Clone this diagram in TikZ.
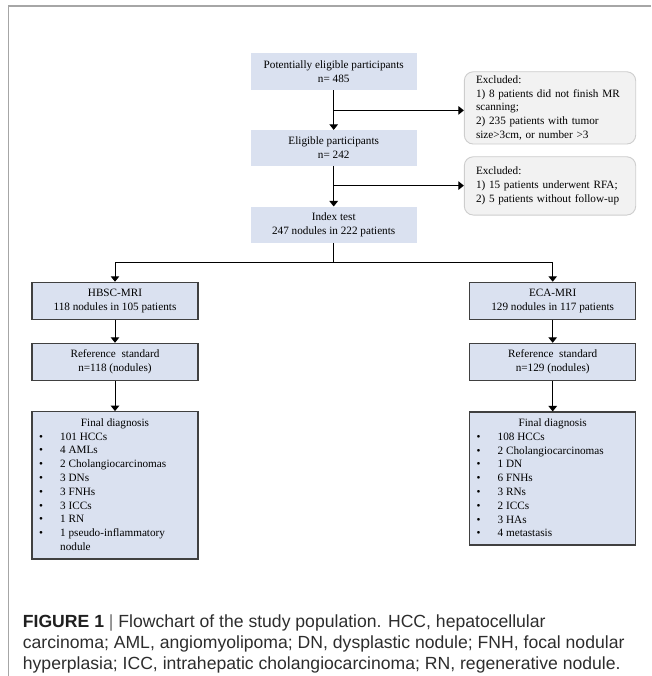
\documentclass[tikz,border=0pt]{standalone}
\usepackage{fontspec}
\setmainfont{Liberation Serif}
\newfontfamily\capfont{Liberation Sans}
\usetikzlibrary{arrows.meta}
\definecolor{boxblue}{RGB}{218,225,240}
\definecolor{exfill}{RGB}{242,242,242}
\definecolor{exdraw}{RGB}{205,205,205}
\definecolor{framegray}{RGB}{166,166,166}
\definecolor{bordergray}{RGB}{64,64,64}
\definecolor{captext}{RGB}{45,45,45}
\definecolor{barcol}{RGB}{110,110,110}
\tikzset{
  plainbox/.style={fill=boxblue, minimum width=166pt, inner sep=0pt, align=center,
    font=\fontsize{11.2}{14}\selectfont},
  framedbox/.style={plainbox, draw=bordergray, line width=1.1pt},
  exbox/.style={fill=exfill, draw=exdraw, rounded corners=9pt, line width=0.9pt,
    text width=148pt, inner xsep=11.7pt, inner ysep=1pt, align=left,
    font=\fontsize{11.2}{13.8}\selectfont},
  listtxt/.style={inner sep=0pt, align=left, font=\fontsize{11.2}{13.8}\selectfont},
  headtxt/.style={inner sep=0pt, font=\fontsize{11.2}{13.8}\selectfont},
  captxt/.style={inner sep=0pt, anchor=base west, text=captext,
    font=\capfont\fontsize{17.6}{21}\selectfont},
  conn/.style={line width=1pt, draw=black},
  arr/.style={conn, -{Triangle[width=8.5pt,length=5.5pt]}},
}
\newcommand{\bul}{\makebox[21pt][l]{\textbullet}}
\begin{document}
\begin{tikzpicture}[x=1pt,y=-1pt]
\useasboundingbox (0,0) rectangle (651,676);
% frame
\draw[framegray, line width=1.3pt] (8.3,676) -- (8.3,6) -- (651,6);

% central column
\node[plainbox, minimum height=36.7pt] (pot) at (333.7,71.7) {Potentially eligible participants\\n= 485};
\node[plainbox, minimum height=35.7pt] (elig) at (333.7,147.9) {Eligible participants\\n= 242};
\node[plainbox, minimum height=36pt] (idx) at (333.7,224.7) {Index test\\247 nodules in 222 patients};

% excluded boxes
\node[exbox, minimum height=72.3pt] (ex1) at (550,107.9) {Excluded:\\1) 8 patients did not finish MR\\scanning;\\2) 235 patients with tumor\\size>3cm, or number >3};
\node[exbox, minimum height=58.3pt] (ex2) at (550,185.9) {Excluded:\\1) 15 patients underwent RFA;\\2) 5 patients without follow-up};

\coordinate (j1) at (333.7,110.4);
\coordinate (j2) at (333.7,185.6);
\coordinate (br) at (333.7,262.3);

\draw[arr] (pot.south) -- (elig.north);
\draw[arr] (j1) -- (j1 -| ex1.west);
\draw[arr] (elig.south) -- (idx.north);
\draw[arr] (j2) -- (j2 -| ex2.west);

% left column
\node[framedbox, minimum height=37pt] (hbsc) at (115,300.8) {HBSC-MRI\\118 nodules in 105 patients};
\node[framedbox, minimum height=36.7pt] (refL) at (115,361.7) {Reference\ \ standard\\n=118 (nodules)};
\node[framedbox, minimum height=147.3pt] (finL) at (115,485.3) {};
\node[headtxt] (finLh) at (115,424.2) {Final diagnosis};
\node[listtxt, anchor=west] (finLi) at (39,491.7) {\bul 101 HCCs\\\bul 4 AMLs\\\bul 2 Cholangiocarcinomas\\\bul 3 DNs\\\bul 3 FNHs\\\bul 3 ICCs\\\bul 1 RN\\\bul 1 pseudo-inflammatory\\\hspace*{21pt}nodule};

% right column
\node[framedbox, minimum height=37pt] (eca) at (552.7,300.8) {ECA-MRI\\129 nodules in 117 patients};
\node[framedbox, minimum height=36.7pt] (refR) at (552.7,361.7) {Reference\ \ standard\\n=129 (nodules)};
\node[framedbox, minimum height=133pt] (finR) at (552.7,478.5) {};
\node[headtxt] (finRh) at (552.7,424.2) {Final diagnosis};
\node[listtxt, anchor=west] (finRi) at (476.5,484.9) {\bul 108 HCCs\\\bul 2 Cholangiocarcinomas\\\bul 1 DN\\\bul 6 FNHs\\\bul 3 RNs\\\bul 2 ICCs\\\bul 3 HAs\\\bul 4 metastasis};

% connectors
\draw[conn] (idx.south) -- (br);
\draw[arr] (br) -| (hbsc.north);
\draw[arr] (br) -| (eca.north);
\draw[arr] (hbsc.south) -- (refL.north);
\draw[arr] (refL.south) -- (finL.north);
\draw[arr] (eca.south) -- (refR.north);
\draw[arr] (refR.south) -- (finR.north);

% caption
\node[captxt] (cap1) at (22.7,627.5) {{\bfseries\color{black!88}FIGURE 1}\ {\color{barcol}|}\ Flowchart of the study population. HCC, hepatocellular};
\node[captxt] (cap2) at (22.7,648.5) {carcinoma; AML, angiomyolipoma; DN, dysplastic nodule; FNH, focal nodular};
\node[captxt] (cap3) at (22.7,669.5) {hyperplasia; ICC, intrahepatic cholangiocarcinoma; RN, regenerative nodule.};
\end{tikzpicture}
\end{document}
